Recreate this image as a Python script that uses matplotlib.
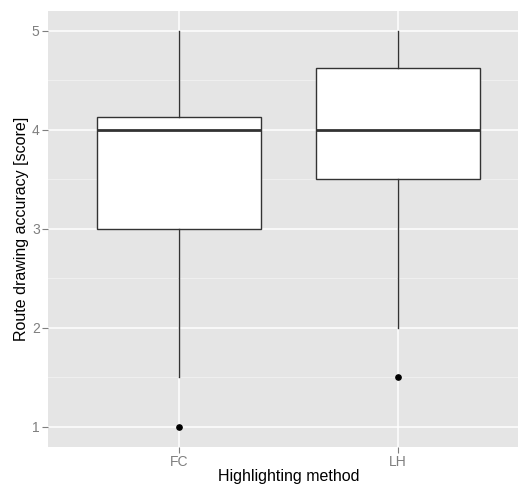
#Boxplot of route drawing accuracy by highlighting method (ggplot2 look)

#import modules
import matplotlib
matplotlib.use("Agg")
import matplotlib.pyplot as plt
from matplotlib.ticker import MultipleLocator

#Data
methods = ["FC", "LH"]
whisker_low = [1.5, 2.0]
q1 = [3.0, 3.5]
median = [4.0, 4.0]
q3 = [4.125, 4.625]
whisker_high = [5.0, 5.0]
outliers = [[1.0], [1.5]]

y_ticks = [1, 2, 3, 4, 5]

#Build the stats list that bxp wants
stats = []
for i in range(len(methods)):
    stats.append({
        "label": methods[i],
        "whislo": whisker_low[i],
        "q1": q1[i],
        "med": median[i],
        "q3": q3[i],
        "whishi": whisker_high[i],
        "fliers": outliers[i],
    })

plt.rcParams["font.family"] = ["Liberation Sans", "DejaVu Sans"]

fig = plt.figure(figsize=(5.18, 4.86), dpi=100)
W, H = 518, 486
pan_l, pan_t, pan_b, pan_w = 48, 11, 446.7, 481
#panel runs a bit past the right edge like in the reference
ax = fig.add_axes([pan_l / W, 1 - pan_b / H, pan_w / W, (pan_b - pan_t) / H])

ax.set_facecolor("#E5E5E5")
for s in ax.spines.values():
    s.set_visible(False)

#grid lines
ax.yaxis.set_major_locator(MultipleLocator(1))
ax.yaxis.set_minor_locator(MultipleLocator(0.5))
ax.grid(which="major", axis="both", color="white", linewidth=1.1)
ax.grid(which="minor", axis="y", color="#F2F2F2", linewidth=0.6)
ax.set_axisbelow(True)

positions = list(range(1, len(methods) + 1))
line_col = "#333333"
ax.bxp(stats, positions=positions, widths=0.75, patch_artist=True,
       showcaps=False,
       boxprops=dict(facecolor="white", edgecolor=line_col, linewidth=1.0),
       whiskerprops=dict(color=line_col, linewidth=1.0),
       medianprops=dict(color=line_col, linewidth=2.0),
       flierprops=dict(marker="o", markerfacecolor="black", markeredgecolor="black",
                       markersize=3.8, linestyle="none"),
       zorder=3)

ax.set_xlim(0.4, 2.6)
ax.set_ylim(0.8, 5.2)
ax.set_xticks(positions)
ax.set_xticklabels(methods)
ax.set_yticks(y_ticks)
ax.set_yticklabels([str(v) for v in y_ticks])

ax.tick_params(which="major", length=4, width=0.8, color="#7F7F7F",
               labelcolor="#7F7F7F", labelsize=10, pad=2)
ax.tick_params(which="minor", length=0)

ax.set_xlabel("Highlighting method", fontsize=11.5)
ax.set_ylabel("Route drawing accuracy [score]", fontsize=11.5)
#pin the axis titles where they sit in the reference
ax.xaxis.set_label_coords(0.5, (pan_b - 476) / (pan_b - pan_t))
ax.xaxis.label.set_verticalalignment("center")
ax.yaxis.set_label_coords((22 - pan_l) / pan_w, 0.5)
ax.yaxis.label.set_verticalalignment("center")

fig.savefig("out.png", dpi=100)
